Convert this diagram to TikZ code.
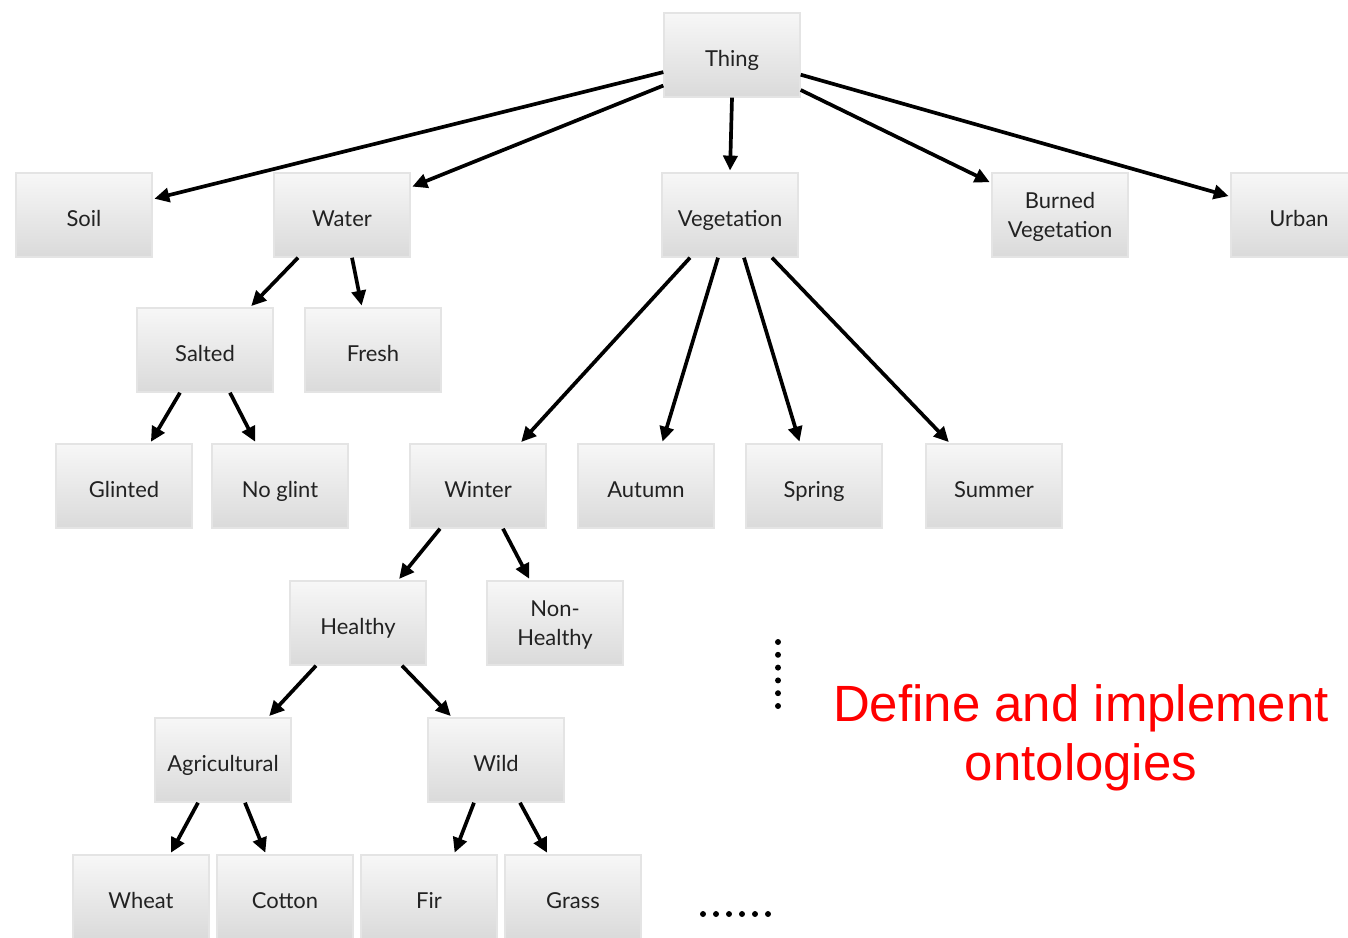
\documentclass[tikz,border=0pt]{standalone}
\usepackage{fontspec}
\setmainfont{Lato}
\newfontfamily\redfont{Liberation Sans}
\usetikzlibrary{arrows.meta}
\definecolor{BoxTop}{HTML}{F7F7F7}
\definecolor{BoxBottom}{HTML}{DADADA}
\definecolor{BoxLine}{HTML}{E4E4E4}
\definecolor{BoxText}{HTML}{222222}
\definecolor{NoteRed}{HTML}{FF0000}

\tikzset{
  cls/.style={rectangle, draw=BoxLine, line width=0.8pt, top color=BoxTop, bottom color=BoxBottom,
    minimum width=2.72cm, minimum height=1.68cm, align=center, text=BoxText,
    font=\fontsize{12.5}{16.5}\selectfont, inner sep=1pt, text height=13pt, text depth=0pt},
  twoline/.style={text height=26pt},
  isa/.style={-{Triangle[length=8.5pt,width=8pt]}, line width=2.1pt, black, shorten >=1pt},
  dotmark/.style={black, fill}
}

\begin{document}
\begin{tikzpicture}[x=0.02cm, y=-0.02cm]
			\useasboundingbox (0,0) rectangle (1348,937);
			
			% top levels
			\node[cls] (thing) at (732,55) {Thing};
			\node[cls] (soil) at (84,215) {Soil};
			\node[cls] (water) at (342,215) {Water};
			\node[cls] (veg) at (730,215) {Vegetation};
			\node[cls, twoline] (burned) at (1060,215) {Burned\\ Vegetation};
			\node[cls] (urban) at (1299,215) {Urban};
			
			\node[cls] (salted) at (205,350) {Salted};
			\node[cls] (fresh) at (373,350) {Fresh};
			\node[cls] (glinted) at (124,486) {Glinted};
			\node[cls] (noglint) at (280,486) {No glint};
			
			\node[cls] (winter) at (478,486) {Winter};
			\node[cls] (autumn) at (646,486) {Autumn};
			\node[cls] (spring) at (814,486) {Spring};
			\node[cls] (summer) at (994,486) {Summer};
			
			\node[cls] (healthy) at (358,623) {Healthy};
			\node[cls, twoline] (nonhealthy) at (555,623) {Non-\\ Healthy};
			\node[cls] (agri) at (223,760) {Agricultural};
			\node[cls] (wild) at (496,760) {Wild};
			
			\node[cls] (wheat) at (141,897) {Wheat};
			\node[cls] (cotton) at (285,897) {Cotton};
			\node[cls] (fir) at (429,897) {Fir};
			\node[cls] (grass) at (573,897) {Grass};
			
			% is-a links
			\draw[isa] (thing.194) -- (soil.13);
			\draw[isa] (thing.204) -- (water.22);
			\draw[isa] (thing.south) -- (veg.north);
			\draw[isa] (thing.333) -- (burned.155);
			\draw[isa] (thing.344) -- (urban.165);
			
			\draw[isa] ([xshift=-0.88cm]water.south) -- ([xshift=0.9cm]salted.north);
			\draw[isa] ([xshift=0.2cm]water.south) -- ([xshift=-0.22cm]fresh.north);
			\draw[isa] ([xshift=-0.5cm]salted.south) -- ([xshift=0.52cm]glinted.north);
			\draw[isa] ([xshift=0.5cm]salted.south) -- ([xshift=-0.48cm]noglint.north);
			
			\draw[isa] ([xshift=-0.8cm]veg.south) -- ([xshift=0.84cm]winter.north);
			\draw[isa] ([xshift=-0.24cm]veg.south) -- ([xshift=0.32cm]autumn.north);
			\draw[isa] ([xshift=0.28cm]veg.south) -- ([xshift=-0.28cm]spring.north);
			\draw[isa] ([xshift=0.84cm]veg.south) -- ([xshift=-0.88cm]summer.north);
			
			\draw[isa] ([xshift=-0.76cm]winter.south) -- ([xshift=0.8cm]healthy.north);
			\draw[isa] ([xshift=0.5cm]winter.south) -- ([xshift=-0.5cm]nonhealthy.north);
			\draw[isa] ([xshift=-0.84cm]healthy.south) -- ([xshift=0.9cm]agri.north);
			\draw[isa] ([xshift=0.88cm]healthy.south) -- ([xshift=-0.88cm]wild.north);
			
			\draw[isa] ([xshift=-0.5cm]agri.south) -- ([xshift=0.58cm]wheat.north);
			\draw[isa] ([xshift=0.44cm]agri.south) -- ([xshift=-0.38cm]cotton.north);
			\draw[isa] ([xshift=-0.44cm]wild.south) -- ([xshift=0.5cm]fir.north);
			\draw[isa] ([xshift=0.48cm]wild.south) -- ([xshift=-0.5cm]grass.north);
			
			% more to come
			\foreach \k in {0,...,5}{
			\fill[dotmark] (778,642+12.8*\k) circle (1.7pt);
			\fill[dotmark] (703+13*\k,914) circle (1.7pt);}
			
			\node[text=NoteRed, align=center, font=\redfont\fontsize{29}{33.5}\selectfont] (note) at (1081,738) {Define and implement\\ ontologies};
		\end{tikzpicture}
\end{document}
